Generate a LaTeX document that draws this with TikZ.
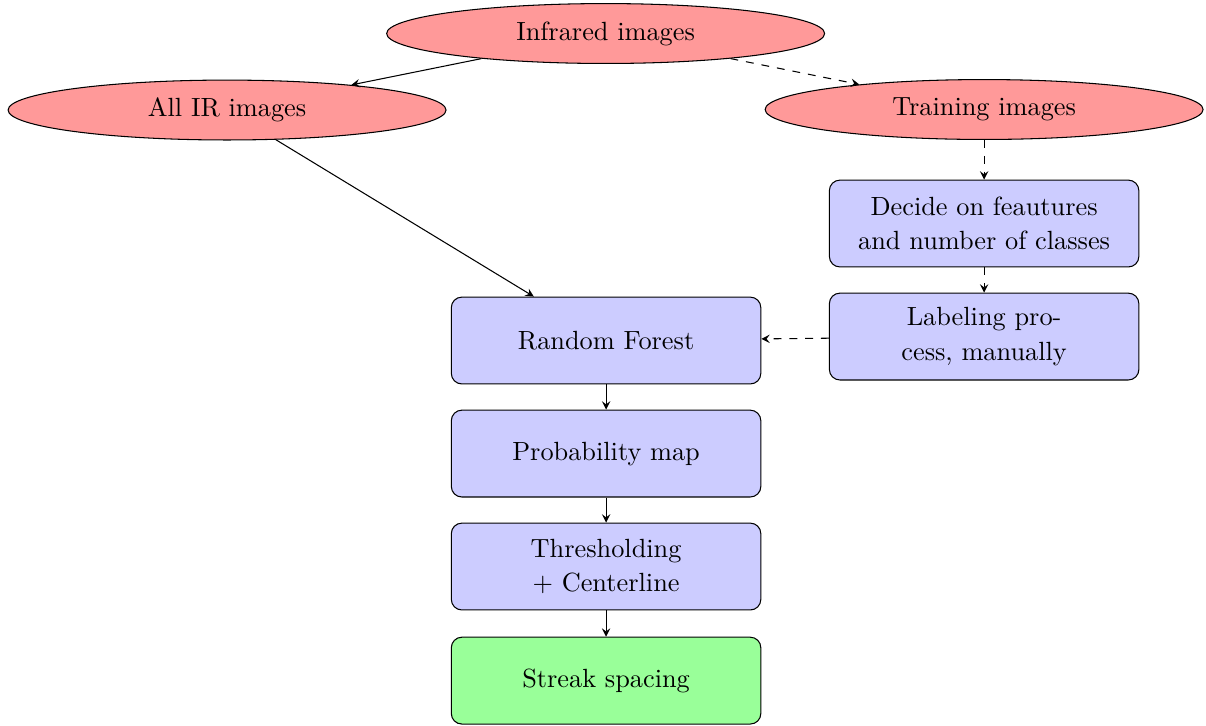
\documentclass[tikz,border=0pt]{standalone}
\usetikzlibrary{shapes.geometric}
\begin{document}
\begin{tikzpicture}[>=stealth,
	ell/.style={ellipse, draw, fill=red!40, minimum width=5.85cm, minimum height=0.8cm},
	box/.style={rectangle, draw, fill=blue!20, rounded corners, text width=3.9cm, align=center, minimum height=1.16cm, font=\fontsize{10}{13}\selectfont}]
	\useasboundingbox (0,0) rectangle (16.11,-9.686);
	\node[ell] (IR) at (8.09,-0.448) {Infrared images};
	\node[ell] (All) at (3.033,-1.47) {All IR images};
	\node[ell] (Train) at (13.146,-1.463) {Training images};
	\node[box] (Dec) at (13.146,-2.986) {Decide on feautures and number of classes};
	\node[box] (Lab) at (13.146,-4.496) {Labeling process, manually};
	\node[box] (RF) at (8.096,-4.549) {Random Forest};
	\node[box] (Prob) at (8.096,-6.059) {Probability map};
	\node[box] (Thr) at (8.096,-7.568) {Thresholding + Centerline};
	\node[box, fill=green!40] (Str) at (8.096,-9.092) {Streak spacing};
	\draw[->] (IR) -- (All);
	\draw[->, dashed] (IR) -- (Train);
	\draw[->, dashed] (Train) -- (Dec);
	\draw[->, dashed] (Dec) -- (Lab);
	\draw[->, dashed] (Lab) -- (RF);
	\draw[->] (All) -- (RF);
	\draw[->] (RF) -- (Prob);
	\draw[->] (Prob) -- (Thr);
	\draw[->] (Thr) -- (Str);
\end{tikzpicture}
\end{document}
